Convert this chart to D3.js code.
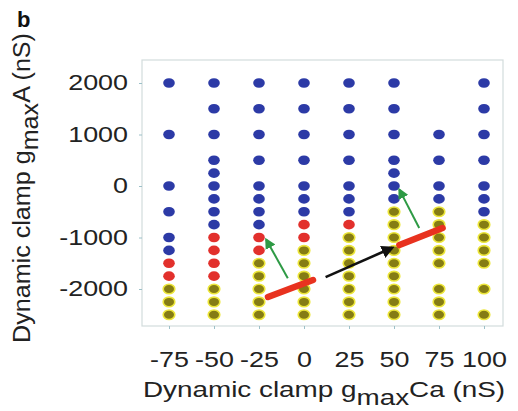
<!DOCTYPE html>
<html><head><meta charset="utf-8">
<script src="https://cdn.jsdelivr.net/npm/d3@7"></script>
<style>body{margin:0;background:#fff}svg{display:block}</style>
</head><body>
<script>
// ---- data ----
const caValues = [-75, -50, -25, 0, 25, 50, 75, 100];
const xTicks = [-75, -50, -25, 0, 25, 50, 75, 100];
const yTicks = [2000, 1000, 0, -1000, -2000];
// each column: list of [gA, state]  state: B=blue, R=red, Y=olive/yellow
const colM75 = [[2000,"B"],[1000,"B"],[0,"B"],[-500,"B"],[-1000,"B"],[-1250,"B"],[-1500,"R"],[-1750,"R"],[-2000,"Y"],[-2250,"Y"],[-2500,"Y"]];
const colM50 = [[2000,"B"],[1500,"B"],[1000,"B"],[500,"B"],[250,"B"],[0,"B"],[-250,"B"],[-500,"B"],[-750,"B"],[-1000,"R"],[-1250,"R"],[-1500,"R"],[-1750,"R"],[-2000,"Y"],[-2250,"Y"],[-2500,"Y"]];
const colM25 = [[2000,"B"],[1500,"B"],[1000,"B"],[500,"B"],[0,"B"],[-250,"B"],[-500,"B"],[-750,"B"],[-1000,"R"],[-1250,"R"],[-1500,"Y"],[-1750,"Y"],[-2000,"Y"],[-2250,"Y"],[-2500,"Y"]];
const col0 = [[2000,"B"],[1500,"B"],[1000,"B"],[500,"B"],[0,"B"],[-250,"B"],[-500,"B"],[-750,"R"],[-1000,"R"],[-1250,"Y"],[-1500,"Y"],[-1750,"Y"],[-2000,"Y"],[-2250,"Y"],[-2500,"Y"]];
const col25 = [[2000,"B"],[1500,"B"],[1000,"B"],[500,"B"],[0,"B"],[-250,"B"],[-500,"B"],[-750,"R"],[-1000,"Y"],[-1250,"Y"],[-1500,"Y"],[-1750,"Y"],[-2000,"Y"],[-2250,"Y"],[-2500,"Y"]];
const col50 = [[2000,"B"],[1500,"B"],[1000,"B"],[500,"B"],[250,"B"],[0,"B"],[-250,"B"],[-500,"Y"],[-750,"Y"],[-1000,"Y"],[-1250,"Y"],[-1500,"Y"],[-1750,"Y"],[-2000,"Y"],[-2250,"Y"],[-2500,"Y"]];
const col75 = [[1000,"B"],[500,"B"],[0,"B"],[-250,"B"],[-500,"Y"],[-750,"Y"],[-1000,"Y"],[-1250,"Y"],[-1500,"Y"],[-2000,"Y"],[-2250,"Y"],[-2500,"Y"]];
const col100 = [[2000,"B"],[1500,"B"],[1000,"B"],[500,"B"],[0,"B"],[-250,"B"],[-500,"B"],[-750,"Y"],[-1000,"Y"],[-1250,"Y"],[-1500,"Y"],[-2000,"Y"],[-2500,"Y"]];
const columns = [colM75, colM50, colM25, col0, col25, col50, col75, col100];
// annotations in data coordinates [ca, gA]
const redSegments = [[[-20,-2155],[5,-1825]], [[53,-1146],[77,-816]]];
const blackArrow = [[12,-1770],[49,-1200]];
const greenArrows = [[[-9,-1790],[-21,-1040]], [[64,-816],[53,-70]]];

// ---- drawing ----
const W = 518, H = 411;
const svg = d3.select("body").append("svg").attr("width", W).attr("height", H);
const x = d3.scaleLinear().domain([-75, 100]).range([169, 484]);
const y = d3.scaleLinear().domain([-2000, 2000]).range([289, 83]);
const frame = {l:142, r:503, t:60, b:326};
const colors = {B:"#2c3aa6", R:"#e2302c", Y:"#857c14"};
const font = "Liberation Sans, Arial, sans-serif";
const sx = 1.25; // horizontal stretch of the reference text

svg.append("rect").attr("x", frame.l).attr("y", frame.t)
  .attr("width", frame.r-frame.l).attr("height", frame.b-frame.t)
  .attr("fill","none").attr("stroke","#d3dcdc").attr("stroke-width",1.2);

// axes
const xAxis = d3.axisBottom(x).tickValues(xTicks).tickSize(3).tickPadding(23).tickFormat(d => String(d));
const gx = svg.append("g").attr("transform",`translate(0,${frame.b})`).call(xAxis);
gx.select(".domain").remove();
gx.selectAll(".tick line").attr("stroke","#9cc0c8");
gx.selectAll("text").attr("font-family",font).attr("font-size",21.5).attr("fill","#222")
  .attr("transform",`scale(${sx},1)`);

const yAxis = d3.axisLeft(y).tickValues(yTicks).tickSize(3).tickPadding(11).tickFormat(d => String(d));
const gy = svg.append("g").attr("transform",`translate(${frame.l},0)`).call(yAxis);
gy.select(".domain").remove();
gy.selectAll(".tick line").attr("stroke","#9cc0c8");
gy.selectAll("text").attr("font-family",font).attr("font-size",21.5).attr("fill","#222")
  .attr("x", -14/sx).attr("transform",`scale(${sx},1)`);

// dots
const pts = [];
columns.forEach((col, i) => col.forEach(([g, s]) => pts.push({ca: caValues[i], g, s})));
svg.append("g").selectAll("ellipse").data(pts).join("ellipse")
  .attr("cx", d => x(d.ca)).attr("cy", d => y(d.g))
  .attr("rx", 5.8).attr("ry", 4.8)
  .attr("fill", d => colors[d.s])
  .attr("stroke", d => d.s === "Y" ? "#ece63a" : "none")
  .attr("stroke-width", d => d.s === "Y" ? 1.6 : 0);

// arrowheads
const defs = svg.append("defs");
function marker(id, color, size){
  defs.append("marker").attr("id", id).attr("viewBox","0 0 10 10").attr("refX",8).attr("refY",5)
    .attr("markerWidth",size).attr("markerHeight",size).attr("orient","auto")
    .append("path").attr("d","M0,0 L10,5 L0,10 z").attr("fill", color);
}
marker("ahBlack","#111",5);
marker("ahGreen","#2e9a45",5.5);

// red segments
svg.append("g").selectAll("line").data(redSegments).join("line")
  .attr("x1", d => x(d[0][0])).attr("y1", d => y(d[0][1]))
  .attr("x2", d => x(d[1][0])).attr("y2", d => y(d[1][1]))
  .attr("stroke","#e8321f").attr("stroke-width",6.5).attr("stroke-linecap","round");

// black arrow
svg.append("line")
  .attr("x1", x(blackArrow[0][0])).attr("y1", y(blackArrow[0][1]))
  .attr("x2", x(blackArrow[1][0])).attr("y2", y(blackArrow[1][1]))
  .attr("stroke","#111").attr("stroke-width",2.6).attr("marker-end","url(#ahBlack)");

// green arrows
svg.append("g").selectAll("line").data(greenArrows).join("line")
  .attr("x1", d => x(d[0][0])).attr("y1", d => y(d[0][1]))
  .attr("x2", d => x(d[1][0])).attr("y2", d => y(d[1][1]))
  .attr("stroke","#2e9a45").attr("stroke-width",2).attr("marker-end","url(#ahGreen)");

// labels
svg.append("text").attr("x",17).attr("y",27).attr("font-family",font).attr("font-weight","bold")
  .attr("font-size",22).attr("fill","#111").text("b");

const xl = svg.append("text").attr("x", 143).attr("y", 397)
  .attr("font-family",font).attr("font-size",22).attr("fill","#222")
  .attr("textLength", 362).attr("lengthAdjust","spacingAndGlyphs");
xl.append("tspan").text("Dynamic clamp g");
xl.append("tspan").attr("dy",8).text("max");
xl.append("tspan").attr("dy",-8).text("Ca (nS)");

const yl = svg.append("text").attr("transform","translate(30,343) rotate(-90)")
  .attr("font-family",font).attr("font-size",23).attr("fill","#222")
  .attr("textLength", 310).attr("lengthAdjust","spacingAndGlyphs");
yl.append("tspan").text("Dynamic clamp g");
yl.append("tspan").attr("dy",8).text("max");
yl.append("tspan").attr("dy",-8).text("A (nS)");
</script>
</body></html>
